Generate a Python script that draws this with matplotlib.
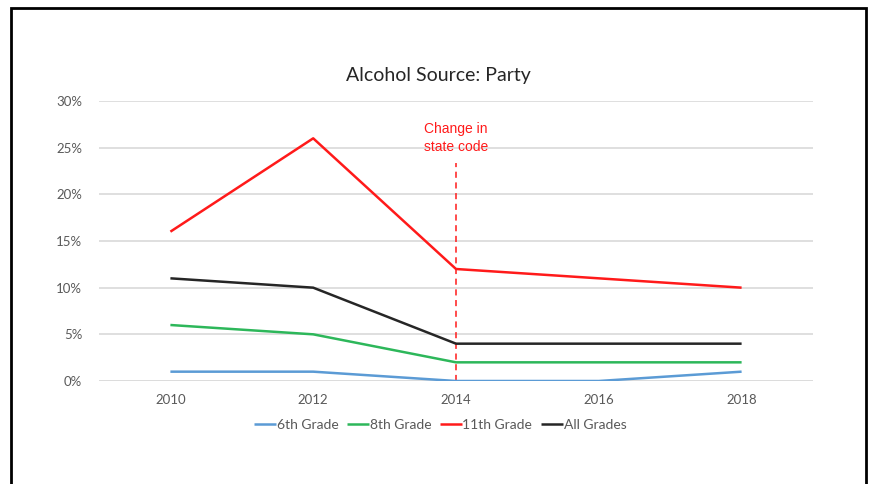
import matplotlib.pyplot as plt
from matplotlib.patches import Rectangle
from matplotlib.ticker import FuncFormatter

years = ["2010", "2012", "2014", "2016", "2018"]
grade_6 = [0.01, 0.01, 0.00, 0.00, 0.01]
grade_8 = [0.06, 0.05, 0.02, 0.02, 0.02]
grade_11 = [0.16, 0.26, 0.12, 0.11, 0.10]
all_grades = [0.11, 0.10, 0.04, 0.04, 0.04]
series_names = ["6th Grade", "8th Grade", "11th Grade", "All Grades"]
change_year = "2014"
change_top = 0.234

COLORS = ["#5B9BD5", "#2DB75A", "#FF1A1A", "#262626"]
TEXT = "#595959"
GRID = "#D9D9D9"

plt.rcParams["font.family"] = ["Lato", "DejaVu Sans"]

fig = plt.figure(figsize=(8.69, 4.84), dpi=100)
fig.patch.set_facecolor("white")

# outer frame, open at the bottom edge
fig.patches.append(Rectangle((11 / 869, -0.05), 855 / 869, 1.05 - 8 / 484,
                             transform=fig.transFigure, fill=False,
                             edgecolor="black", linewidth=2.0))

ax = fig.add_axes([99 / 869, 103 / 484, 714 / 869, 280 / 484])
x = list(range(len(years)))

for vals, name, col in zip([grade_6, grade_8, grade_11, all_grades], series_names, COLORS):
    ax.plot(x, vals, color=col, linewidth=1.8, label=name, zorder=3,
            solid_capstyle="butt")

cx = years.index(change_year)
ax.plot([cx, cx], [0, change_top], color="#FF1A1A", linewidth=1.1,
        linestyle=(0, (4, 3)), zorder=2)
ax.text(cx, 0.260, "Change in\nstate code", ha="center", va="center",
        color="#FF1A1A", fontsize=10, family=["Liberation Sans"], linespacing=1.35)

ax.set_xlim(-0.5, len(years) - 0.5)
ax.set_ylim(0, 0.30)
ax.set_xticks(x)
ax.set_xticklabels(years)
ax.set_yticks([0, 0.05, 0.10, 0.15, 0.20, 0.25, 0.30])
ax.yaxis.set_major_formatter(FuncFormatter(lambda v, _: f"{v * 100:.0f}%"))
ax.tick_params(length=0, labelsize=9.5, colors=TEXT, pad=12)
ax.tick_params(axis="x", pad=9)
ax.grid(axis="y", color=GRID, linewidth=1.2, zorder=0)
for s in ax.spines.values():
    s.set_visible(False)
ax.axhline(0, color="#EDEDED", linewidth=1.2, zorder=1)

# title and legend are centred on the whole chart frame, not on the axes
fig.text(438 / 869, 1 - 75 / 484, "Alcohol Source: Party", ha="center", va="center",
         fontsize=14, color="#262626")

fig.legend(*ax.get_legend_handles_labels(), loc="center",
           bbox_to_anchor=(440 / 869, 1 - 425 / 484), ncol=4, frameon=False,
           fontsize=10, labelcolor=TEXT, handlelength=1.6, handletextpad=0.05,
           columnspacing=0.6)

fig.savefig("out.png", dpi=100)
